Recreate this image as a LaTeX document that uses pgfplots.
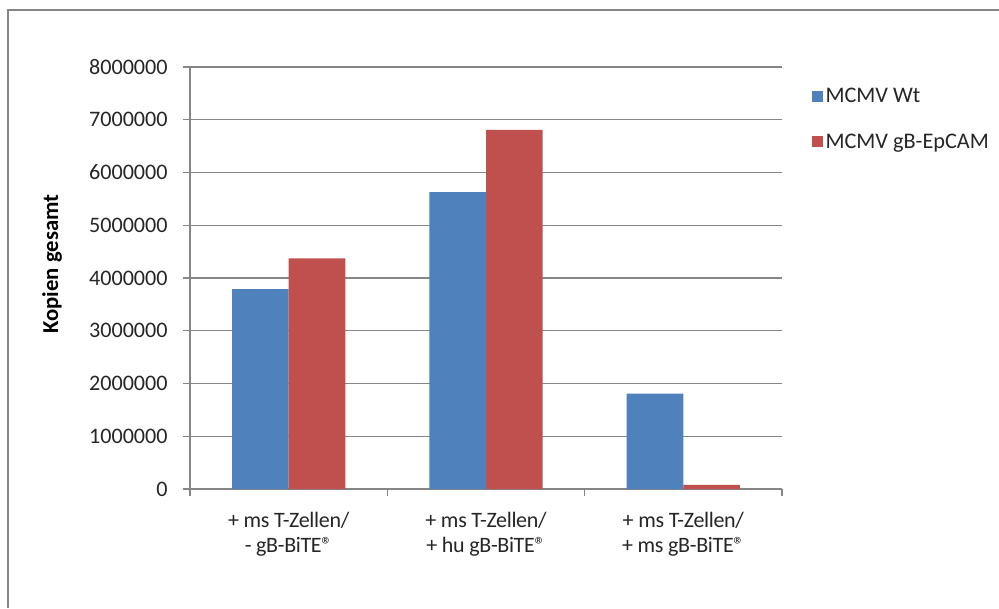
\documentclass[border=0pt]{standalone}
\usepackage{pgfplots}
\pgfplotsset{compat=1.18}
\usepackage{fontspec}
\setmainfont{Carlito}

\definecolor{wtblue}{HTML}{4F81BD}
\definecolor{epred}{HTML}{C0504D}
\definecolor{framegray}{HTML}{868686}
\definecolor{gridgray}{HTML}{868686}
\definecolor{txt}{HTML}{262626}

\newcommand{\reg}{\textregistered}

\begin{document}
\begin{tikzpicture}
% canvas of 999 x 608 px at 0.75pt per px, origin bottom left
\useasboundingbox (0pt,0pt) rectangle (749.25pt,456pt);
\fill[white] (0pt,0pt) rectangle (749.25pt,456pt);
% chart area frame (left and top edges)
\draw[framegray, line width=1.5pt] (6pt,0pt) -- (6pt,448.5pt) -- (749.25pt,448.5pt);

\begin{axis}[
  at={(142.5pt,89.25pt)}, anchor=south west,
  scale only axis,
  width=444pt, height=316.5pt,
  xmin=-0.5, xmax=2.5,
  ymin=0, ymax=8000000,
  axis x line=bottom, axis y line=left,
  axis line style={gridgray, line width=0.8pt, -},
  ymajorgrids,
  major grid style={gridgray, line width=0.8pt},
  tick align=outside,
  ytick={0,1000000,...,8000000},
  scaled y ticks=false,
  yticklabel style={/pgf/number format/fixed, /pgf/number format/1000 sep={},
    /pgf/number format/precision=0, /pgf/number format/assume math mode=true,
    font=\fontsize{16.6pt}{20pt}\selectfont, text=txt, xshift=-8pt},
  xtick={0,1,2},
  minor xtick={-0.5,0.5,1.5,2.5},
  major tick length=5.25pt,
  minor tick length=5.25pt,
  major x tick style={draw=none},
  every tick/.style={gridgray, line width=0.8pt},
  xticklabels={{+ ms T-Zellen/\\- gB-BiTE\reg},
               {+ ms T-Zellen/\\+ hu gB-BiTE\reg},
               {+ ms T-Zellen/\\+ ms gB-BiTE\reg}},
  xticklabel style={align=center, text=txt,
    font=\fontsize{16.5pt}{18.75pt}\selectfont\addfontfeature{LetterSpace=-1.5}, yshift=-9pt},
  ylabel={\textbf{Kopien gesamt}},
  ylabel style={at={(axis description cs:-0.233,0.533)}, anchor=center,
    font=\fontsize{17pt}{20pt}\selectfont, text=black},
  legend style={at={(1,1)}, anchor=north west, xshift=22.25pt, yshift=-13.5pt,
    draw=none, fill=none, inner sep=0pt, row sep=18pt,
    font=\fontsize{16.7pt}{20pt}\selectfont, text=txt,
    legend cell align=left},
  legend image code/.code={\fill[#1] (0pt,-4.1pt) rectangle (8.2pt,4.1pt);},
]
\addplot[ybar, bar width=0.287, bar shift=-0.1435, fill=wtblue, draw=none]
  coordinates {(0,3790000) (1,5630000) (2,1810000)};
\addlegendentry{MCMV Wt}
\addplot[ybar, bar width=0.287, bar shift=0.1435, fill=epred, draw=none]
  coordinates {(0,4370000) (1,6810000) (2,80000)};
\addlegendentry{MCMV gB-EpCAM}
\end{axis}
\end{tikzpicture}
\end{document}
